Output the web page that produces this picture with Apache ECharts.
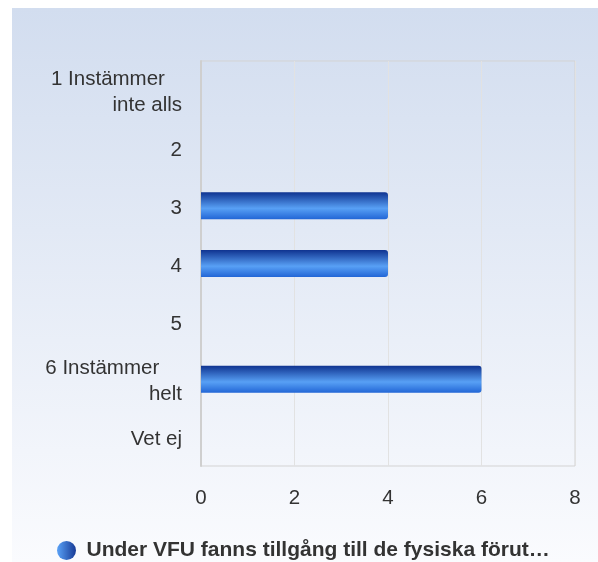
<!DOCTYPE html>
<html>
<head>
<meta charset="utf-8">
<script src="https://cdn.jsdelivr.net/npm/echarts@6/dist/echarts.min.js"></script>
<style>
  html, body { margin: 0; padding: 0; background: #fff; }
  #chart { width: 598px; height: 562px; }
</style>
</head>
<body>
<div id="chart"></div>
<script>
var categories = ['1 Instämmer\u00a0\u00a0\u00a0\ninte alls', '2', '3', '4', '5', '6 Instämmer\u00a0\u00a0\u00a0\u00a0\nhelt', 'Vet ej'];
var values = [0, 0, 4, 4, 0, 6, 0];
var seriesName = 'Under VFU fanns tillgång till de fysiska förut…';

var chart = echarts.init(document.getElementById('chart'));

var option = {
    backgroundColor: '#fff',
    graphic: [{
        type: 'rect',
        left: 12,
        top: 8,
        z: -10,
        shape: { width: 586, height: 554 },
        style: {
            fill: new echarts.graphic.LinearGradient(0, 0, 0, 1, [
                { offset: 0, color: '#d2ddef' },
                { offset: 1, color: '#fafbfe' }
            ])
        }
    }],
    grid: {
        left: 201,
        right: 23,
        top: 61,
        bottom: 96,
        show: true,
        borderColor: '#d3d3d3',
        borderWidth: 1,
        backgroundColor: 'transparent'
    },
    legend: {
        top: 535,
        left: 52,
        icon: 'circle',
        itemWidth: 24,
        itemHeight: 19,
        itemGap: 8,
        textStyle: { fontSize: 21, fontWeight: 'bold', color: '#333', fontFamily: 'Liberation Sans, Arial, sans-serif', padding: [0, 0, 0, 3] },
        data: [{
            name: seriesName,
            itemStyle: {
                color: new echarts.graphic.LinearGradient(0, 0, 1, 0, [
                    { offset: 0, color: '#5aa2f7' },
                    { offset: 1, color: '#173a96' }
                ])
            }
        }]
    },
    xAxis: {
        type: 'value',
        min: 0,
        max: 8,
        interval: 2,
        axisLine: { show: false },
        axisTick: { show: false },
        splitLine: { lineStyle: { color: '#e2e2e2', width: 1 } },
        axisLabel: { fontSize: 20.5, color: '#333', margin: 22, fontFamily: 'Liberation Sans, Arial, sans-serif' }
    },
    yAxis: {
        type: 'category',
        inverse: true,
        data: categories,
        axisLine: { show: true, lineStyle: { color: '#cfcfcf', width: 2 } },
        axisTick: { show: false },
        axisLabel: {
            margin: 19,
            align: 'right',
            formatter: function (v) {
                return v.split('\n').map(function (l) { return '{a|' + l + '}'; }).join('\n');
            },
            rich: {
                a: { fontSize: 20.5, color: '#333', lineHeight: 26, padding: [5, 0, 0, 0], fontFamily: 'Liberation Sans, Arial, sans-serif' }
            }
        }
    },
    series: [{
        name: seriesName,
        type: 'bar',
        data: values,
        barWidth: 27,
        itemStyle: {
            borderRadius: [0, 3, 3, 0],
            color: new echarts.graphic.LinearGradient(0, 0, 0, 1, [
                { offset: 0, color: '#0f3390' },
                { offset: 0.6, color: '#58a0f5' },
                { offset: 1, color: '#2266d6' }
            ])
        }
    }]
};

chart.setOption(option);
</script>
</body>
</html>
